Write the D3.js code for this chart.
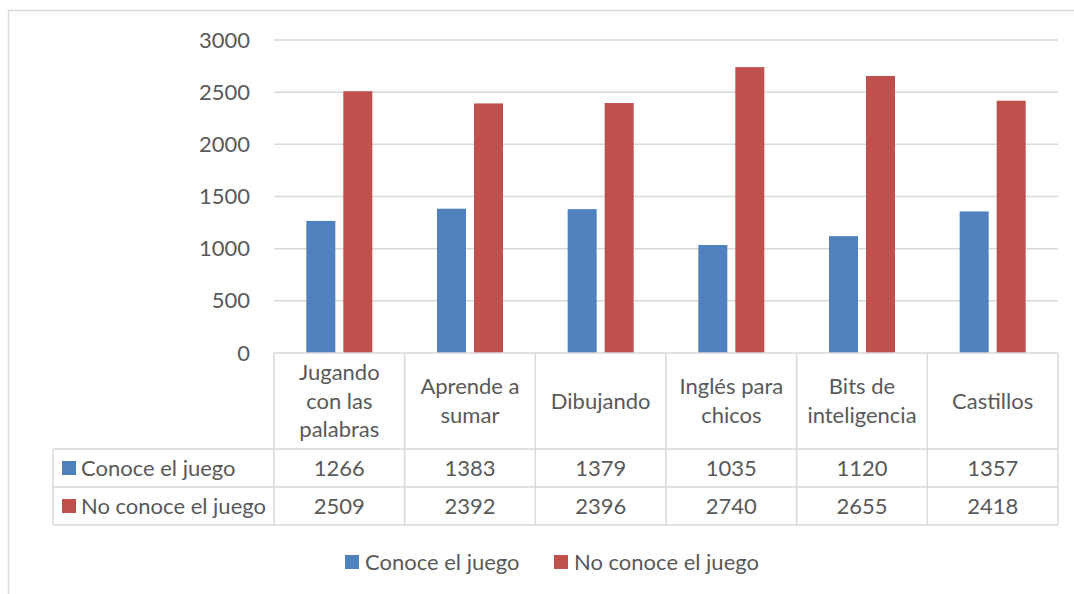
<!DOCTYPE html>
<html>
<head>
<meta charset="utf-8">
<script src="https://cdn.jsdelivr.net/npm/d3@7"></script>
<style>
  body { margin: 0; background: #fff; }
  text { font-family: Lato, "Open Sans", sans-serif; fill: #595959; }
</style>
</head>
<body>
<div class="chart"></div>
<script>
// Data
var categories = [
  ["Jugando", "con las", "palabras"],
  ["Aprende a", "sumar"],
  ["Dibujando"],
  ["Inglés para", "chicos"],
  ["Bits de", "inteligencia"],
  ["Castillos"]
];
var seriesNames = ["Conoce el juego", "No conoce el juego"];
var conoce = [1266, 1383, 1379, 1035, 1120, 1357];
var noConoce = [2509, 2392, 2396, 2740, 2655, 2418];
var yTicks = [0, 500, 1000, 1500, 2000, 2500, 3000];
var colors = ["#4F81BD", "#C0504D"];

var svgWidth = 1074;
var svgHeight = 594;

// plot area
var plot = { left: 274, right: 1058, top: 40, bottom: 353 };
var tableLeft = 53;
var rowLines = [353, 449, 487, 525];
var fontSize = 22;

var svg = d3.select(".chart").append("svg")
  .attr("width", svgWidth)
  .attr("height", svgHeight);

// chart area border (cropped at right and bottom)
svg.append("path")
  .attr("d", "M8.5,600 V10.5 H1080")
  .attr("fill", "none")
  .attr("stroke", "#D9D9D9")
  .attr("stroke-width", 1.5);

var idx = d3.range(categories.length);
var x0 = d3.scaleBand().domain(idx).range([plot.left, plot.right]);
var y = d3.scaleLinear().domain([0, 3000]).range([plot.bottom, plot.top]);

// gridlines
svg.append("g").selectAll("line")
  .data(yTicks.filter(function(d) { return d > 0; }))
  .enter().append("line")
  .attr("x1", plot.left).attr("x2", plot.right)
  .attr("y1", function(d) { return y(d); })
  .attr("y2", function(d) { return y(d); })
  .attr("stroke", "#D9D9D9")
  .attr("stroke-width", 1.5);

// y axis labels
var leftAxis = d3.axisLeft(y).tickValues(yTicks).tickFormat(d3.format("d"))
  .tickSize(0).tickPadding(24);
var yAxisG = svg.append("g")
  .attr("transform", "translate(" + plot.left + ",0)")
  .call(leftAxis);
yAxisG.select(".domain").remove();
yAxisG.selectAll("text")
  .style("font-family", "Lato, sans-serif")
  .style("font-size", fontSize + "px")
  .attr("fill", "#595959");

// bars
var barW = 29, barGap = 8;
var x1 = d3.scaleOrdinal().domain([0, 1])
  .range([-(barW + barGap / 2), barGap / 2]);
var series = [conoce, noConoce];

series.forEach(function(vals, s) {
  svg.append("g").selectAll("rect")
    .data(vals)
    .enter().append("rect")
    .attr("x", function(d, i) { return x0(i) + x0.bandwidth() / 2 + x1(s); })
    .attr("y", function(d) { return y(d); })
    .attr("width", barW)
    .attr("height", function(d) { return y(0) - y(d); })
    .attr("fill", colors[s]);
});

// data table
var grid = svg.append("g")
  .attr("stroke", "#D9D9D9")
  .attr("stroke-width", 1.5);

// horizontal lines
grid.append("line")
  .attr("x1", plot.left).attr("x2", plot.right)
  .attr("y1", rowLines[0]).attr("y2", rowLines[0]);
rowLines.slice(1).forEach(function(ly) {
  grid.append("line")
    .attr("x1", tableLeft).attr("x2", plot.right)
    .attr("y1", ly).attr("y2", ly);
});
// vertical lines
grid.append("line")
  .attr("x1", tableLeft).attr("x2", tableLeft)
  .attr("y1", rowLines[1]).attr("y2", rowLines[3]);
idx.concat([categories.length]).forEach(function(i) {
  var lx = i < categories.length ? x0(i) : plot.right;
  grid.append("line")
    .attr("x1", lx).attr("x2", lx)
    .attr("y1", rowLines[0]).attr("y2", rowLines[3]);
});

// category headers
var lineH = 28.5;
var header = svg.append("g");
categories.forEach(function(lines, i) {
  var cx = x0(i) + x0.bandwidth() / 2;
  var cy = (rowLines[0] + rowLines[1]) / 2;
  var t = header.append("text")
    .attr("text-anchor", "middle")
    .attr("font-size", fontSize)
    .attr("x", cx)
    .attr("y", cy - (lines.length - 1) * lineH / 2);
  lines.forEach(function(l, k) {
    t.append("tspan")
      .attr("x", cx)
      .attr("dy", k === 0 ? "0.35em" : lineH)
      .text(l);
  });
});

// value rows
series.forEach(function(vals, s) {
  var cy = (rowLines[s + 1] + rowLines[s + 2]) / 2;
  svg.append("g").selectAll("text")
    .data(vals)
    .enter().append("text")
    .attr("text-anchor", "middle")
    .attr("font-size", fontSize)
    .attr("x", function(d, i) { return x0(i) + x0.bandwidth() / 2; })
    .attr("y", cy)
    .attr("dy", "0.35em")
    .text(function(d) { return d; });

  // series label with key
  svg.append("rect")
    .attr("x", 62).attr("y", cy - 7)
    .attr("width", 14).attr("height", 14)
    .attr("fill", colors[s]);
  svg.append("text")
    .attr("x", 81).attr("y", cy)
    .attr("dy", "0.35em")
    .attr("font-size", fontSize)
    .text(seriesNames[s]);
});

// legend
var legendX = [345, 554];
var legendY = 562;
seriesNames.forEach(function(name, s) {
  svg.append("rect")
    .attr("x", legendX[s]).attr("y", legendY - 7)
    .attr("width", 14).attr("height", 14)
    .attr("fill", colors[s]);
  svg.append("text")
    .attr("x", legendX[s] + 20).attr("y", legendY)
    .attr("dy", "0.35em")
    .attr("font-size", fontSize)
    .text(name);
});
</script>
</body>
</html>
